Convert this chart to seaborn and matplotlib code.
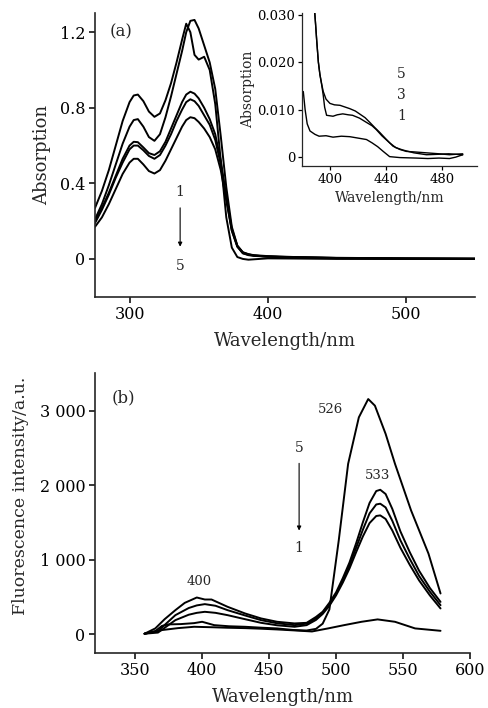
import matplotlib
matplotlib.use("Agg")
import matplotlib.pyplot as plt
import seaborn as sns
from matplotlib.ticker import FuncFormatter

# ---- panel (a): absorption spectra ----
wl_a = [275, 280, 285, 290, 295, 300, 303, 306, 310, 314, 318, 322, 326, 330, 334, 338,
        341, 344, 347, 350, 354, 358, 362, 366, 370, 374, 378, 382, 386, 390, 400, 420,
        450, 500, 550]
abs_1 = [0.27, 0.36, 0.47, 0.60, 0.73, 0.83, 0.865, 0.87, 0.835, 0.78, 0.752, 0.77, 0.84,
         0.93, 1.04, 1.16, 1.245, 1.20, 1.08, 1.055, 1.07, 1.00, 0.82, 0.52, 0.22, 0.06,
         0.01, 0.0, -0.004, -0.002, 0.003, 0.002, 0.0, 0.0, 0.0]
abs_2 = [0.21, 0.29, 0.39, 0.50, 0.61, 0.70, 0.735, 0.74, 0.70, 0.645, 0.625, 0.66, 0.75,
         0.86, 0.98, 1.10, 1.20, 1.26, 1.265, 1.22, 1.13, 1.04, 0.90, 0.65, 0.38, 0.17,
         0.07, 0.035, 0.025, 0.018, 0.012, 0.008, 0.004, 0.002, 0.001]
abs_3 = [0.20, 0.27, 0.35, 0.44, 0.53, 0.60, 0.62, 0.618, 0.59, 0.56, 0.55, 0.57, 0.62,
         0.69, 0.76, 0.83, 0.87, 0.885, 0.875, 0.85, 0.80, 0.74, 0.66, 0.52, 0.33, 0.16,
         0.07, 0.035, 0.025, 0.02, 0.015, 0.01, 0.006, 0.003, 0.001]
abs_4 = [0.19, 0.26, 0.34, 0.43, 0.51, 0.58, 0.60, 0.60, 0.575, 0.545, 0.53, 0.55, 0.60,
         0.66, 0.73, 0.79, 0.83, 0.845, 0.835, 0.81, 0.76, 0.71, 0.63, 0.50, 0.32, 0.15,
         0.065, 0.03, 0.022, 0.018, 0.013, 0.009, 0.005, 0.002, 0.001]
abs_5 = [0.17, 0.22, 0.29, 0.37, 0.45, 0.51, 0.53, 0.53, 0.50, 0.465, 0.452, 0.47, 0.52,
         0.58, 0.64, 0.70, 0.735, 0.75, 0.745, 0.725, 0.69, 0.645, 0.58, 0.47, 0.31, 0.15,
         0.065, 0.03, 0.02, 0.016, 0.012, 0.008, 0.005, 0.002, 0.001]

# ---- inset: tail of the absorption spectra ----
ins_x1 = [380.7, 382, 383.5, 385.5, 389, 392, 397, 402, 408, 414, 420, 426, 430, 434, 438,
          442.6, 450, 461.7, 470, 478, 485.5, 490, 495]
ins_y1 = [0.0138, 0.010, 0.007, 0.0055, 0.0048, 0.0044, 0.0045, 0.0042, 0.0044, 0.0043,
          0.0040, 0.0037, 0.0030, 0.0022, 0.0012, 0.0001, -0.0001, -0.0002, -0.0003,
          -0.0002, -0.0003, 0.0, 0.0005]
ins_x3 = [388.5, 389.5, 390.3, 391.5, 392.6, 394, 395, 396, 397.4, 402, 405, 409, 413, 416,
          421, 426, 430, 433, 437, 442.6, 447, 452, 460, 469, 478, 485, 495]
ins_y3 = [0.032, 0.028, 0.0246, 0.020, 0.0174, 0.0150, 0.0130, 0.0105, 0.0088, 0.0086,
          0.0089, 0.0091, 0.0089, 0.0088, 0.0082, 0.0073, 0.0066, 0.0058, 0.0045, 0.0030,
          0.0020, 0.0015, 0.0009, 0.0005, 0.0006, 0.0007, 0.0005]
ins_x5 = [388.5, 389.5, 390.3, 391.5, 392.6, 394, 395, 397, 399.8, 403, 407, 410, 414, 418,
          421, 425, 428.4, 432, 435.5, 440, 445, 450, 454.6, 460, 469, 478, 485.5, 495]
ins_y5 = [0.032, 0.028, 0.0246, 0.020, 0.0174, 0.0152, 0.0138, 0.0122, 0.0113, 0.0110,
          0.0109, 0.0106, 0.0102, 0.0097, 0.0091, 0.0083, 0.0073, 0.0062, 0.0052, 0.0038,
          0.0023, 0.0016, 0.0012, 0.0011, 0.0009, 0.0007, 0.0005, 0.0007]

# ---- panel (b): fluorescence spectra ----
fl_x1 = [357, 370, 382, 394, 407, 419, 432, 444, 456, 469, 482, 494, 506, 519, 531, 544,
         559, 578]
fl_y1 = [5, 54, 80, 98, 92, 85, 80, 72, 62, 49, 35, 76, 120, 165, 197, 165, 76, 44]
fl_x2 = [357, 367, 380, 390, 396, 402, 410, 419, 432, 444, 456, 469, 478, 485, 490, 495,
         500, 505, 510, 515, 520, 525, 530, 533, 537, 542, 548, 555, 562, 570, 578]
fl_y2 = [5, 20, 187, 260, 285, 299, 285, 254, 200, 151, 118, 98, 120, 190, 270, 380, 520,
         690, 880, 1100, 1310, 1490, 1585, 1593, 1545, 1390, 1160, 930, 720, 520, 344]
fl_y3 = [5, 40, 254, 350, 385, 402, 380, 321, 250, 187, 145, 120, 140, 210, 290, 400, 540,
         720, 920, 1160, 1400, 1620, 1740, 1750, 1700, 1520, 1260, 1010, 780, 570, 388]
fl_x4 = [357, 365, 372, 380, 387, 396, 402, 407, 419, 432, 444, 456, 469, 478, 485, 490,
         495, 500, 505, 510, 515, 520, 525, 530, 533, 537, 542, 548, 555, 562, 570, 578]
fl_y4 = [5, 76, 200, 321, 419, 491, 464, 464, 366, 277, 210, 165, 143, 151, 230, 300, 420,
         560, 750, 960, 1220, 1500, 1760, 1920, 1937, 1880, 1680, 1380, 1100, 850, 620, 432]
fl_x5 = [357, 365, 370, 375, 384, 394, 400, 409, 420, 432, 445, 456, 468, 478, 485, 490,
         495, 502, 509, 517, 524, 529, 537, 544, 556, 569, 578]
fl_y5 = [5, 40, 110, 130, 134, 147, 165, 120, 105, 98, 85, 76, 55, 48, 70, 140, 330, 1258,
         2285, 2909, 3155, 3066, 2687, 2285, 1660, 1080, 545]

sns.set_theme(style="ticks")
plt.rcParams["font.family"] = ["DejaVu Serif"]
plt.rcParams["axes.linewidth"] = 1.2
plt.rcParams["xtick.major.width"] = 1.1
plt.rcParams["ytick.major.width"] = 1.1
plt.rcParams["xtick.major.size"] = 4
plt.rcParams["ytick.major.size"] = 4

fig = plt.figure(figsize=(4.88, 7.08), dpi=100)
ax_a = fig.add_axes([0.1947, 0.5809, 0.7787, 0.4003])
ax_b = fig.add_axes([0.1947, 0.0781, 0.7684, 0.3946])
ax_in = fig.add_axes([0.6195, 0.766, 0.3573, 0.2155])

lw = 1.4
for ys in [abs_1, abs_2, abs_3, abs_4, abs_5]:
    sns.lineplot(x=wl_a, y=ys, color="black", lw=lw, ax=ax_a)

ax_a.set_xlim(275, 550)
ax_a.set_ylim(-0.2, 1.3)
ax_a.set_xticks([300, 400, 500])
ax_a.set_yticks([0, 0.4, 0.8, 1.2])
ax_a.yaxis.set_major_formatter(FuncFormatter(lambda v, p: "0" if abs(v) < 1e-9 else f"{v:.1f}"))
ax_a.tick_params(labelsize=11.5, colors="black", pad=3)
ax_a.set_xlabel("Wavelength/nm", fontsize=13, labelpad=6)
ax_a.set_ylabel("Absorption", fontsize=13, labelpad=6)
sns.despine(ax=ax_a)
ax_a.text(294, 1.2, "(a)", fontsize=12, ha="center", va="center")
ax_a.text(336.6, 0.354, "1", fontsize=10, ha="center", va="center")
ax_a.text(336.6, -0.036, "5", fontsize=10, ha="center", va="center")
ax_a.annotate("", xy=(336.6, 0.05), xytext=(336.6, 0.285),
              arrowprops=dict(arrowstyle="-|>", color="black", lw=0.8, mutation_scale=6))

# inset
for xs, ys in [(ins_x1, ins_y1), (ins_x3, ins_y3), (ins_x5, ins_y5)]:
    sns.lineplot(x=xs, y=ys, color="black", lw=1.0, ax=ax_in)
ax_in.set_xlim(380, 505)
ax_in.set_ylim(-0.0018, 0.0303)
ax_in.set_xticks([400, 440, 480])
ax_in.set_yticks([0, 0.010, 0.020, 0.030])
ax_in.yaxis.set_major_formatter(FuncFormatter(lambda v, p: "0" if abs(v) < 1e-9 else f"{v:.3f}"))
ax_in.tick_params(labelsize=9.5, colors="black", pad=2, length=3, width=0.9)
for s in ["left", "bottom"]:
    ax_in.spines[s].set_linewidth(0.9)
ax_in.set_xlabel("Wavelength/nm", fontsize=10, labelpad=4)
ax_in.set_ylabel("Absorption", fontsize=10, labelpad=2)
ax_in.patch.set_alpha(0)
sns.despine(ax=ax_in)
ax_in.text(451.2, 0.0175, "5", fontsize=10, ha="center", va="center")
ax_in.text(451.2, 0.0131, "3", fontsize=10, ha="center", va="center")
ax_in.text(451.2, 0.0087, "1", fontsize=10, ha="center", va="center")

# panel (b)
for xs, ys in [(fl_x1, fl_y1), (fl_x2, fl_y2), (fl_x2, fl_y3), (fl_x4, fl_y4), (fl_x5, fl_y5)]:
    sns.lineplot(x=xs, y=ys, color="black", lw=lw, ax=ax_b)
ax_b.set_xlim(320, 600)
ax_b.set_ylim(-250, 3500)
ax_b.set_xticks([350, 400, 450, 500, 550, 600])
ax_b.set_yticks([0, 1000, 2000, 3000])
ax_b.yaxis.set_major_formatter(FuncFormatter(lambda v, p: "0" if v == 0 else f"{int(v) // 1000} {int(v) % 1000:03d}"))
ax_b.tick_params(labelsize=11.5, colors="black", pad=3)
ax_b.set_xlabel("Wavelength/nm", fontsize=13, labelpad=6)
ax_b.set_ylabel("Fluorescence intensity/a.u.", fontsize=12.5, labelpad=6)
ax_b.yaxis.set_label_coords(-0.175, 0.56)
sns.despine(ax=ax_b)
ax_b.text(341, 3173, "(b)", fontsize=12, ha="center", va="center")
ax_b.text(398, 700, "400", fontsize=9.5, ha="center", va="center")
ax_b.text(496, 3008, "526", fontsize=9.5, ha="center", va="center")
ax_b.text(531, 2128, "533", fontsize=9.5, ha="center", va="center")
ax_b.text(472.4, 2494, "5", fontsize=10, ha="center", va="center")
ax_b.text(472.4, 1151, "1", fontsize=10, ha="center", va="center")
ax_b.annotate("", xy=(472.4, 1352), xytext=(472.4, 2329),
              arrowprops=dict(arrowstyle="-|>", color="black", lw=0.8, mutation_scale=6))

fig.savefig("out.png", dpi=100)
